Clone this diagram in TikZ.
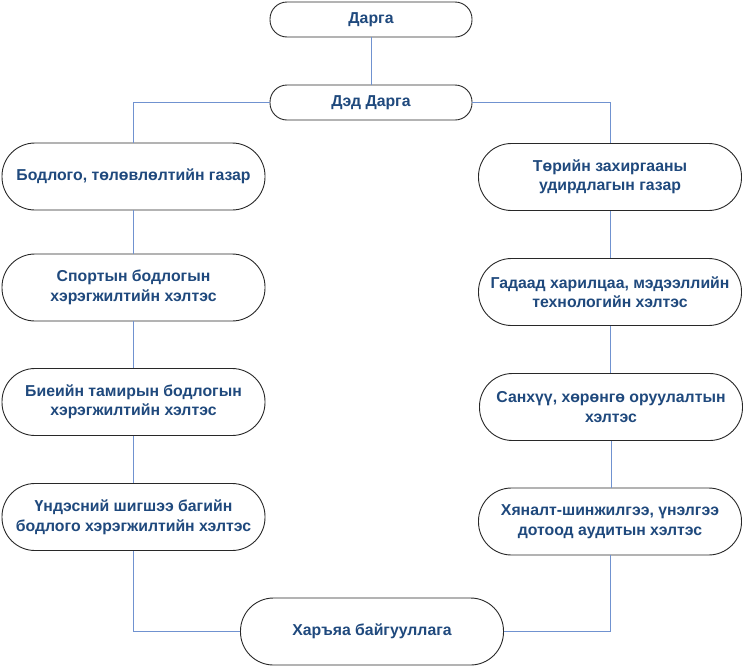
\documentclass[tikz,border=0pt]{standalone}
\usepackage{fontspec}
\setmainfont{Liberation Sans}
\definecolor{txtblue}{RGB}{31,73,125}
\definecolor{lnblue}{RGB}{112,146,208}
\definecolor{bord}{RGB}{40,40,40}
\begin{document}
\begin{tikzpicture}[x=1pt,y=-1pt,
  box/.style={draw=bord,line width=0.9pt,fill=white,rounded corners=33pt,
    minimum width=263pt,minimum height=67pt,align=center,text=txtblue,
    font=\fontsize{15.8}{19.5}\selectfont\bfseries,inner sep=2pt},
  topbox/.style={box,rounded corners=17pt,minimum width=202pt,minimum height=35pt},
  link/.style={draw=lnblue,line width=0.8pt}]
\useasboundingbox (0,0) rectangle (743,667);
\node[topbox] (d) at (371,19.5) {Дарга};
\node[topbox] (dd) at (371,102.5) {Дэд Дарга};
\node[box] (l1) at (133.5,176.5) {Бодлого, төлөвлөлтийн газар};
\node[box] (l2) at (133.5,287.5) {Спортын бодлогын\\хэрэгжилтийн хэлтэс};
\node[box] (l3) at (133.5,402) {Биеийн тамирын бодлогын\\хэрэгжилтийн хэлтэс};
\node[box] (l4) at (133.5,517) {Үндэсний шигшээ багийн\\бодлого хэрэгжилтийн хэлтэс};
\node[box] (r1) at (610,177) {Төрийн захиргааны\\удирдлагын газар};
\node[box] (r2) at (610,292) {Гадаад харилцаа, мэдээллийн\\технологийн хэлтэс};
\node[box] (r3) at (611,407) {Санхүү, хөрөнгө оруулалтын\\хэлтэс};
\node[box] (r4) at (610,521.5) {Хяналт-шинжилгээ, үнэлгээ\\дотоод аудитын хэлтэс};
\node[box] (b) at (372,631.5) {Харъяа байгууллага};
\draw[link] (d.south) -- (dd.north);
\draw[link] (dd.west) -| (l1.north);
\draw[link] (dd.east) -| (r1.north);
\draw[link] (l1.south) -- (l2.north);
\draw[link] (l2.south) -- (l3.north);
\draw[link] (l3.south) -- (l4.north);
\draw[link] (r1.south) -- (r2.north);
\draw[link] (r2.south) -- (r3.north -| r2.south);
\draw[link] (r3.south) -- (r4.north -| r3.south);
\draw[link] (l4.south) |- (b.west);
\draw[link] (r4.south) |- (b.east);
\end{tikzpicture}
\end{document}
